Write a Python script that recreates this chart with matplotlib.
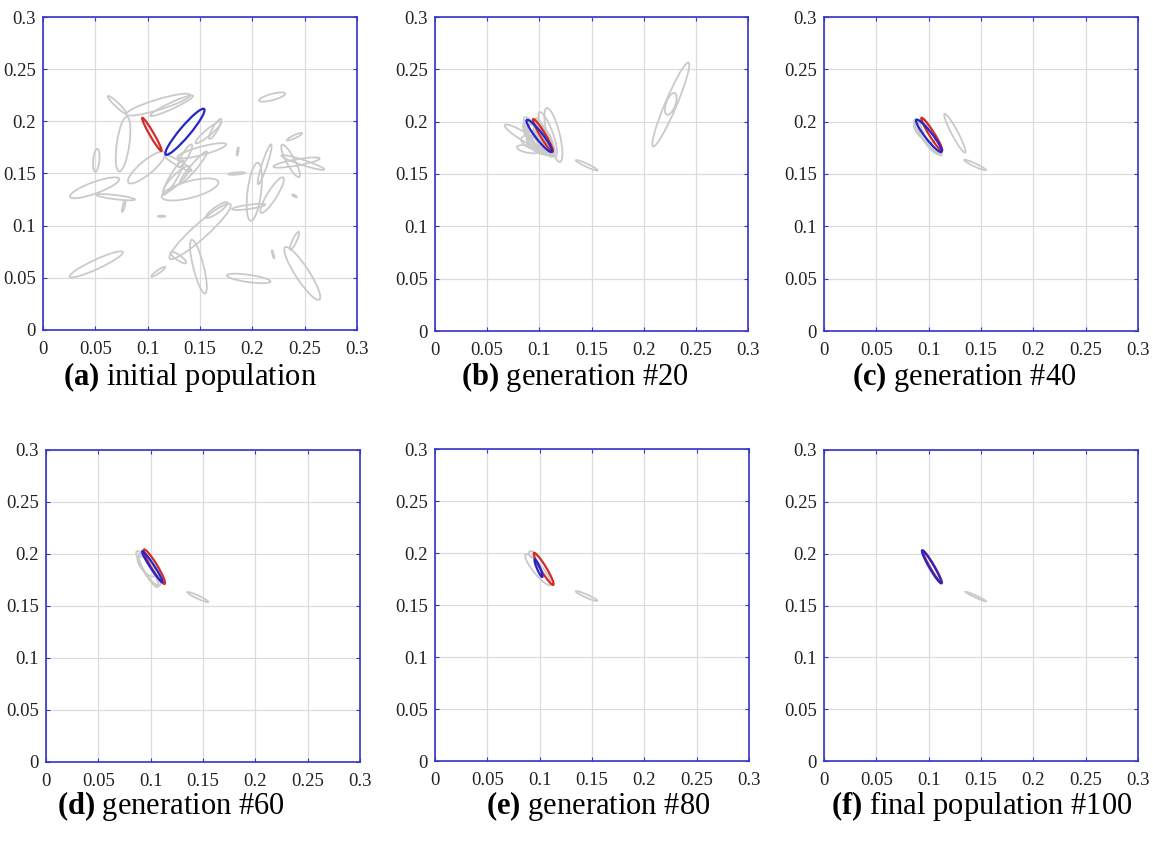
import matplotlib
matplotlib.use("Agg")
import matplotlib.pyplot as plt
from matplotlib.patches import Ellipse

plt.rcParams.update({
    "font.family": "Liberation Serif",
    "mathtext.fontset": "custom",
    "mathtext.rm": "Liberation Serif",
    "mathtext.bf": "Liberation Serif:bold",
})

# ellipses: (center x, center y, major length, minor length, angle deg)
gray_a = [
    (0.0707, 0.2159, 0.024, 0.004, -44), (0.1100, 0.2160, 0.064, 0.010, 17),
    (0.1230, 0.2150, 0.045, 0.006, 25), (0.0765, 0.1782, 0.053, 0.012, 82),
    (0.0509, 0.1627, 0.022, 0.006, 85), (0.0989, 0.1557, 0.045, 0.013, 40),
    (0.0493, 0.1363, 0.050, 0.011, 20), (0.0694, 0.1273, 0.037, 0.004, -7),
    (0.0771, 0.1186, 0.011, 0.002, 75), (0.1405, 0.1347, 0.056, 0.016, 15),
    (0.1277, 0.1444, 0.035, 0.009, 45), (0.1245, 0.1460, 0.038, 0.007, 60),
    (0.1517, 0.1718, 0.048, 0.008, 15), (0.1581, 0.1895, 0.032, 0.006, 40),
    (0.1645, 0.1927, 0.022, 0.005, 60), (0.1357, 0.1669, 0.025, 0.006, 60),
    (0.1290, 0.1600, 0.030, 0.005, -30), (0.1437, 0.1557, 0.040, 0.006, 50),
    (0.1860, 0.1711, 0.008, 0.0015, 80), (0.1850, 0.1500, 0.016, 0.002, 5),
    (0.2189, 0.2233, 0.026, 0.006, 15), (0.2403, 0.1853, 0.016, 0.003, 25),
    (0.2118, 0.1589, 0.040, 0.005, 72), (0.2019, 0.1325, 0.056, 0.013, 83),
    (0.2189, 0.1293, 0.040, 0.009, 58), (0.1965, 0.1180, 0.032, 0.004, 8),
    (0.2365, 0.1621, 0.035, 0.008, -62), (0.2422, 0.1605, 0.045, 0.006, 10),
    (0.2483, 0.1605, 0.043, 0.005, -18), (0.2403, 0.1286, 0.005, 0.0015, -30),
    (0.1133, 0.1090, 0.007, 0.0012, 0), (0.1501, 0.0945, 0.078, 0.014, 42),
    (0.1660, 0.1150, 0.025, 0.006, 35), (0.1293, 0.0694, 0.018, 0.005, -35),
    (0.1485, 0.0607, 0.053, 0.010, -76), (0.1101, 0.0558, 0.016, 0.003, 35),
    (0.0509, 0.0629, 0.056, 0.009, 25), (0.1965, 0.0494, 0.042, 0.007, -8),
    (0.2198, 0.0726, 0.008, 0.0012, -75), (0.2403, 0.0855, 0.019, 0.004, 65),
    (0.2477, 0.0542, 0.060, 0.013, -57),
]
gray_b = [
    (0.2260, 0.2164, 0.087, 0.011, 67), (0.2260, 0.2170, 0.022, 0.009, 70),
    (0.1455, 0.1583, 0.023, 0.003, -25), (0.0853, 0.1857, 0.043, 0.008, -31),
    (0.1135, 0.1873, 0.053, 0.012, -76), (0.0895, 0.1737, 0.022, 0.007, -10),
    (0.0990, 0.1850, 0.040, 0.014, -50), (0.1010, 0.1830, 0.036, 0.016, -55),
    (0.0970, 0.1860, 0.034, 0.012, -45), (0.1030, 0.1820, 0.030, 0.010, -60),
    (0.1000, 0.1800, 0.028, 0.018, -40), (0.0960, 0.1880, 0.038, 0.010, -58),
    (0.1050, 0.1850, 0.040, 0.008, -65), (0.1080, 0.1880, 0.045, 0.010, -70),
    (0.0940, 0.1800, 0.024, 0.012, -20), (0.1000, 0.1840, 0.032, 0.020, -52),
    (0.1020, 0.1790, 0.026, 0.014, -48), (0.0980, 0.1820, 0.030, 0.008, -35),
    (0.1060, 0.1800, 0.030, 0.012, -62),
]
gray_c = [
    (0.1250, 0.1890, 0.042, 0.006, -62), (0.1443, 0.1586, 0.023, 0.003, -25),
    (0.0990, 0.1860, 0.040, 0.010, -52), (0.1010, 0.1840, 0.036, 0.012, -56),
    (0.1020, 0.1850, 0.040, 0.008, -60), (0.0960, 0.1900, 0.026, 0.012, -45),
]
gray_d = [
    (0.0968, 0.1855, 0.040, 0.008, -60), (0.0990, 0.1850, 0.036, 0.010, -58),
    (0.1450, 0.1586, 0.022, 0.003, -25), (0.0960, 0.1880, 0.024, 0.010, -50),
]
gray_e = [
    (0.0985, 0.1839, 0.0377, 0.009, -51), (0.0930, 0.1985, 0.008, 0.005, -50),
    (0.1448, 0.1586, 0.0226, 0.003, -24),
]
gray_f = [
    (0.1030, 0.1870, 0.036, 0.006, -60), (0.1450, 0.1586, 0.022, 0.002, -25),
]

red_best = [
    (0.1040, 0.1875, 0.0365, 0.004, -60), (0.1035, 0.1869, 0.0363, 0.005, -59),
    (0.1030, 0.1880, 0.037, 0.005, -58), (0.1035, 0.1878, 0.0385, 0.006, -59),
    (0.1038, 0.1847, 0.0358, 0.0055, -59), (0.1035, 0.1872, 0.036, 0.004, -60),
]
blue_best = [
    (0.1356, 0.1900, 0.057, 0.010, 50), (0.0999, 0.1864, 0.0387, 0.007, -52),
    (0.1002, 0.1865, 0.039, 0.007, -52), (0.1016, 0.1878, 0.0354, 0.004, -57),
    (0.0989, 0.1854, 0.0184, 0.003, -67), (0.1029, 0.1874, 0.0366, 0.0045, -60),
]

captions = [
    (r"$\mathbf{(a)}$", "initial population"),
    (r"$\mathbf{(b)}$", "generation #20"),
    (r"$\mathbf{(c)}$", "generation #40"),
    (r"$\mathbf{(d)}$", "generation #60"),
    (r"$\mathbf{(e)}$", "generation #80"),
    (r"$\mathbf{(f)}$", "final population #100"),
]
ticks = [0, 0.05, 0.1, 0.15, 0.2, 0.25, 0.3]
tick_labels = ["0", "0.05", "0.1", "0.15", "0.2", "0.25", "0.3"]

W, H = 1153, 850
# axes boxes in pixels: left, top, right, bottom
boxes = [
    (43, 17, 357, 330), (435, 17, 748, 331), (824, 17, 1138, 331),
    (46, 450, 360, 762), (435, 449, 749, 761), (824, 450, 1138, 761),
]
cap_x = [190, 575, 964, 171, 598, 982]
cap_y = [377, 377, 377, 806, 806, 806]
grays = [gray_a, gray_b, gray_c, gray_d, gray_e, gray_f]

fig = plt.figure(figsize=(W / 100, H / 100), dpi=100)
spine_col = "#3434c8"

for i in range(6):
    l, t, r, b = boxes[i]
    ax = fig.add_axes([l / W, 1 - b / H, (r - l) / W, (b - t) / H])
    ax.set_xlim(0, 0.3)
    ax.set_ylim(0, 0.3)
    ax.set_xticks(ticks)
    ax.set_yticks(ticks)
    ax.set_xticklabels(tick_labels)
    ax.set_yticklabels(tick_labels)
    ax.grid(True, color="#dcdcdc", lw=0.9)
    ax.set_axisbelow(True)
    ax.tick_params(direction="in", length=3, color=spine_col, labelsize=13.5,
                   top=True, right=True, labelcolor="#222222")
    ax.tick_params(axis="x", pad=8)
    ax.tick_params(axis="y", pad=5)
    for s in ax.spines.values():
        s.set_color(spine_col)
        s.set_linewidth(1.2)

    for (x, y, L, w, ang) in grays[i]:
        ax.add_patch(Ellipse((x, y), L, w, angle=ang, fill=False,
                             ec="#cacaca", lw=1.3))
    x, y, L, w, ang = red_best[i]
    ax.add_patch(Ellipse((x, y), L, w, angle=ang, fill=False, ec="#d42a2a", lw=1.6))
    x, y, L, w, ang = blue_best[i]
    ax.add_patch(Ellipse((x, y), L, w, angle=ang, fill=False, ec="#2626c8", lw=1.6))

    lab, txt = captions[i]
    fig.text(cap_x[i] / W, 1 - cap_y[i] / H, lab + " " + txt,
             ha="center", va="center", fontsize=22)

fig.savefig("out.png", dpi=100)
